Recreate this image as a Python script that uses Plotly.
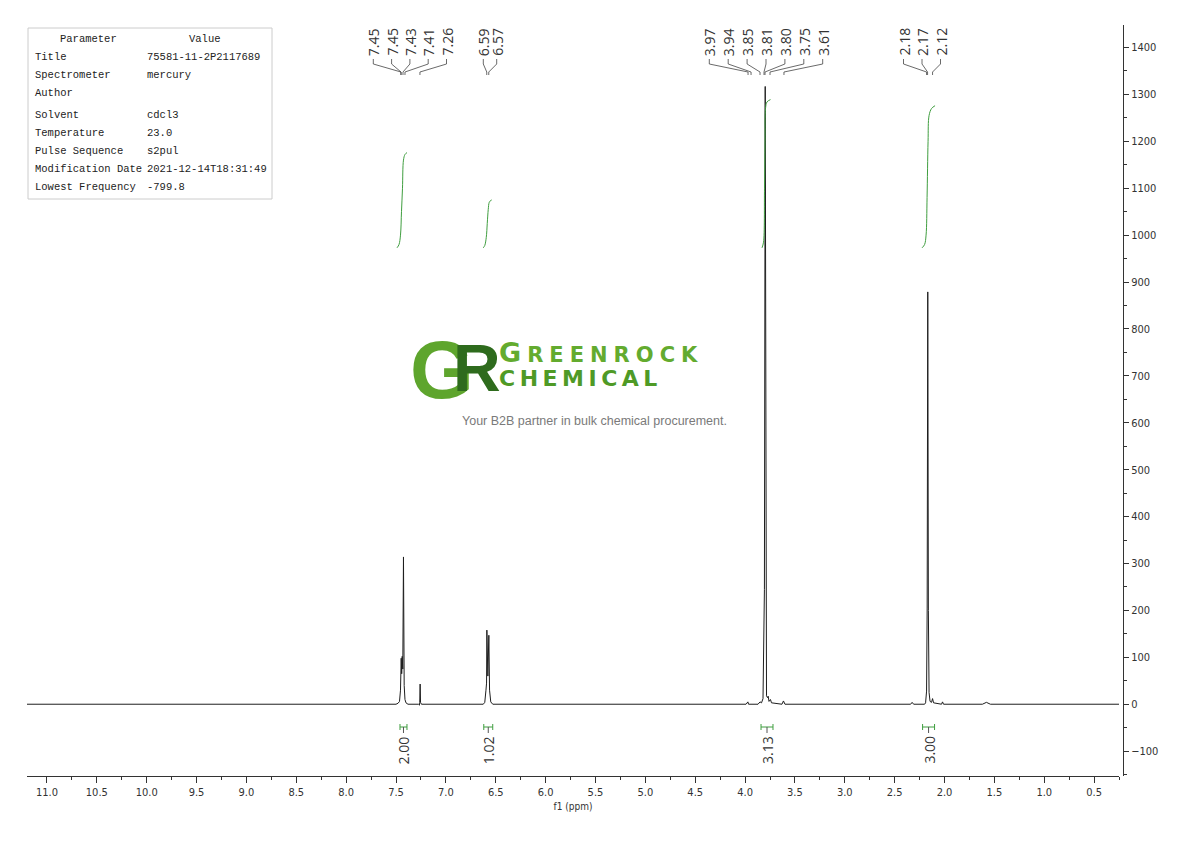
import plotly.graph_objects as go

# ---------------- data ----------------
# spectrum outline (ppm, intensity), descending ppm
spec_ppm = [11.20, 7.50, 7.48, 7.465, 7.455, 7.448, 7.443, 7.438, 7.432, 7.425, 7.418, 7.41, 7.40, 7.38,
            7.275, 7.265, 7.262, 7.258, 7.254, 7.245,
            6.625, 6.61, 6.598, 6.592, 6.589, 6.579, 6.569, 6.562, 6.55, 6.53,
            3.99, 3.972, 3.965, 3.87, 3.85, 3.835, 3.82, 3.806, 3.798, 3.791, 3.785, 3.775, 3.768,
            3.76, 3.745, 3.735, 3.70, 3.63, 3.615, 3.60,
            2.34, 2.325, 2.31, 2.20, 2.19, 2.18, 2.174, 2.168, 2.162, 2.155, 2.145, 2.13, 2.12, 2.11,
            2.03, 2.02, 2.01, 1.62, 1.58, 1.54, 0.25]
spec_int = [0, 0, 2, 6, 30, 98, 65, 102, 75, 314, 40, 10, 3, 0,
            0, -2, 4, 43, 4, 0,
            0, 4, 30, 45, 158, 60, 147, 30, 5, 0,
            0, 5, 0, 0, 5, 3, 12, 245, 1317, 240, 18, 14, 17,
            6, 10, 3, 2, 0, 7, 0,
            0, 4, 0, 0, 3, 28, 205, 879, 200, 25, 6, 4, 12, 3,
            0, 5, 0, 0, 4, 0, 0]

# peak picking labels, grouped
peak_groups = [[7.45, 7.45, 7.43, 7.41, 7.26],
               [6.59, 6.57],
               [3.97, 3.94, 3.85, 3.81, 3.80, 3.75, 3.61],
               [2.18, 2.17, 2.12]]

# integrals
integral_ranges = [(7.46, 7.39), (6.62, 6.53), (3.84, 3.72), (2.22, 2.10)]
integral_values = ["2.00", "1.02", "3.13", "3.00"]
int_curve_ppm = [[7.49, 7.47, 7.455, 7.445, 7.435, 7.425, 7.41, 7.39],
                 [6.625, 6.61, 6.595, 6.585, 6.575, 6.565, 6.55, 6.54],
                 [3.83, 3.815, 3.805, 3.80, 3.795, 3.78, 3.745],
                 [2.225, 2.20, 2.185, 2.175, 2.165, 2.155, 2.13, 2.095]]
int_curve_val = [[973, 980, 1000, 1050, 1100, 1160, 1172, 1176],
                 [973, 978, 995, 1025, 1055, 1070, 1074, 1075],
                 [973, 985, 1100, 1200, 1270, 1284, 1289],
                 [973, 980, 1000, 1080, 1200, 1255, 1270, 1276]]

# parameter table
param_names = ["Title", "Spectrometer", "Author", "Solvent", "Temperature",
               "Pulse Sequence", "Modification Date", "Lowest Frequency"]
param_values = ["75581-11-2P2117689", "mercury", "", "cdcl3", "23.0",
                "s2pul", "2021-12-14T18:31:49", "-799.8"]

# ---------------- layout geometry (page pixels) ----------------
PAGE_W, PAGE_H = 1190, 841
BODY = 8  # default page margin around the plot div
ML, MR, MT, MB = 27, 67, 25, 65
XR = [11.2, 0.25]
YR = [-153, 1448]
X_DOMAIN_END = 0.9964
PLOT_W = PAGE_W - ML - MR
PLOT_H = PAGE_H - MT - MB
XAX_W = PLOT_W * X_DOMAIN_END


def px2ppm(px):
    return XR[0] - (px - ML) * (XR[0] - XR[1]) / XAX_W


def py2val(py):
    return YR[1] - (py - MT) * (YR[1] - YR[0]) / PLOT_H


def pxp(px):
    return (px - ML) / PLOT_W


def pyp(py):
    return (PAGE_H - MB - py) / PLOT_H


# label group centres / spacing (pixels)
group_layout = [(409.9, 18.3), (490.0, 13.4), (766.0, 18.9), (922.0, 18.5)]

INK = "#333333"
GREEN = "#3f9e3f"
LABEL_FONT = dict(family="Open Sans, Arial, sans-serif", size=14, color=INK)
AXIS_FONT = dict(family="Liberation Sans Narrow, DejaVu Sans Condensed, Roboto Condensed, sans-serif",
                 size=11, color=INK)

fig = go.Figure()

# spectrum
fig.add_trace(go.Scatter(x=spec_ppm, y=spec_int, mode="lines",
                         line=dict(color="#1e1e1e", width=1), hoverinfo="skip", showlegend=False))

# integral curves
for cp, cv in zip(int_curve_ppm, int_curve_val):
    fig.add_trace(go.Scatter(x=cp, y=cv, mode="lines", line=dict(color=GREEN, width=1, shape="spline"),
                             hoverinfo="skip", showlegend=False))

annotations = []

# peak labels and their connector lines
cx, cy = [], []
y_top, y_mid, y_conv, y_end = py2val(59), py2val(64), py2val(72), py2val(75)
for labels, (gc, gs) in zip(peak_groups, group_layout):
    n = len(labels)
    for i, v in enumerate(labels):
        lx = px2ppm(gc + (i - (n - 1) / 2) * gs)
        annotations.append(dict(x=lx, y=py2val(58), xref="x", yref="y", text=f"{v:.2f}",
                                textangle=-90, showarrow=False, xanchor="center", yanchor="bottom",
                                font=LABEL_FONT))
        cx += [lx, lx, v, v, None]
        cy += [y_top, y_mid, y_conv, y_end, None]
fig.add_trace(go.Scatter(x=cx, y=cy, mode="lines", line=dict(color="#444444", width=0.8),
                         hoverinfo="skip", showlegend=False))

# integral brackets + values
bx, by, sx, sy = [], [], [], []
yb, yc0, yc1, ys = py2val(727), py2val(724), py2val(730), py2val(733)
for (a, b), val in zip(integral_ranges, integral_values):
    mid = (a + b) / 2
    bx += [a, a, None, a, b, None, b, b, None]
    by += [yc0, yc1, None, yb, yb, None, yc0, yc1, None]
    sx += [mid, mid, None]
    sy += [yb, ys, None]
    annotations.append(dict(x=mid, y=py2val(734), xref="x", yref="y", text=val, textangle=-90,
                            showarrow=False, xanchor="center", yanchor="top", font=LABEL_FONT))
fig.add_trace(go.Scatter(x=bx, y=by, mode="lines", line=dict(color=GREEN, width=1),
                         hoverinfo="skip", showlegend=False))
fig.add_trace(go.Scatter(x=sx, y=sy, mode="lines", line=dict(color="#555555", width=1),
                         hoverinfo="skip", showlegend=False))

# parameter table
TABLE_FONT = dict(family="Liberation Mono, DejaVu Sans Mono, monospace", size=10.5, color="#222222")
annotations.append(dict(x=pxp(88), y=pyp(39), xref="paper", yref="paper", text="Parameter",
                        showarrow=False, xanchor="center", yanchor="middle", font=TABLE_FONT))
annotations.append(dict(x=pxp(205), y=pyp(39), xref="paper", yref="paper", text="Value",
                        showarrow=False, xanchor="center", yanchor="middle", font=TABLE_FONT))
for i, (nme, val) in enumerate(zip(param_names, param_values)):
    ry = 57 + 18 * i + (4 if i >= 3 else 0)
    annotations.append(dict(x=pxp(33), y=pyp(ry), xref="paper", yref="paper", text=nme,
                            showarrow=False, xanchor="left", yanchor="middle", font=TABLE_FONT))
    if val:
        annotations.append(dict(x=pxp(145), y=pyp(ry), xref="paper", yref="paper", text=val,
                                showarrow=False, xanchor="left", yanchor="middle", font=TABLE_FONT))

# watermark logo
annotations += [
    dict(x=pxp(408), y=pyp(369), xref="paper", yref="paper", text="<b>G</b>", showarrow=False,
         xanchor="left", yanchor="middle",
         font=dict(family="Liberation Sans, Arial", size=82, color="#5ea52d")),
    dict(x=pxp(451), y=pyp(368), xref="paper", yref="paper", text="<b>R</b>", showarrow=False,
         xanchor="left", yanchor="middle",
         font=dict(family="Liberation Sans, Arial", size=66, color="#2e6b1d")),
    dict(x=pxp(497), y=pyp(353), xref="paper", yref="paper",
         text='<span style="font-size:27px;letter-spacing:6px">G</span>'
              '<span style="letter-spacing:6px">REENROCK</span>',
         showarrow=False, xanchor="left", yanchor="middle",
         font=dict(family="DejaVu Sans, Verdana", size=21, color="#63ab2f", weight="bold")),
    dict(x=pxp(497), y=pyp(378), xref="paper", yref="paper",
         text='<span style="letter-spacing:4.5px">CHEMICAL</span>',
         showarrow=False, xanchor="left", yanchor="middle",
         font=dict(family="DejaVu Sans, Verdana", size=22, color="#4f9a26", weight="bold")),
    dict(x=pxp(594), y=pyp(421), xref="paper", yref="paper",
         text="Your B2B partner in bulk chemical procurement.", showarrow=False,
         xanchor="center", yanchor="middle",
         font=dict(family="Liberation Sans, Arial", size=12.5, color="#7a7a7a")),
]

fig.update_layout(
    width=PAGE_W - 2 * BODY, height=PAGE_H - 2 * BODY,
    margin=dict(l=ML - BODY, r=MR - BODY, t=MT - BODY, b=MB - BODY),
    plot_bgcolor="white", paper_bgcolor="white",
    showlegend=False,
    xaxis=dict(range=XR, domain=[0, X_DOMAIN_END], showgrid=False, zeroline=False,
               showline=True, linecolor=INK, linewidth=1,
               ticks="outside", ticklen=6, tickcolor=INK, tick0=0, dtick=0.5, tickformat=".1f",
               minor=dict(ticks="outside", ticklen=3, dtick=0.25, tickcolor=INK),
               tickfont=AXIS_FONT,
               title=dict(text="f1 (ppm)", font=dict(family=AXIS_FONT["family"], size=10, color=INK),
                          standoff=4)),
    yaxis=dict(range=YR, side="right", anchor="free", position=1, showgrid=False, zeroline=False,
               showline=True, linecolor=INK, linewidth=1,
               ticks="outside", ticklen=5, tickcolor=INK, dtick=100, tickformat="d",
               minor=dict(ticks="outside", ticklen=3, dtick=50, tickcolor=INK),
               tickfont=AXIS_FONT),
    shapes=[dict(type="rect", xref="paper", yref="paper", x0=pxp(28), x1=pxp(272),
                 y0=pyp(199), y1=pyp(28), line=dict(color="#cccccc", width=1),
                 fillcolor="white", layer="below")],
    annotations=annotations,
)

fig.write_html("out.html")
